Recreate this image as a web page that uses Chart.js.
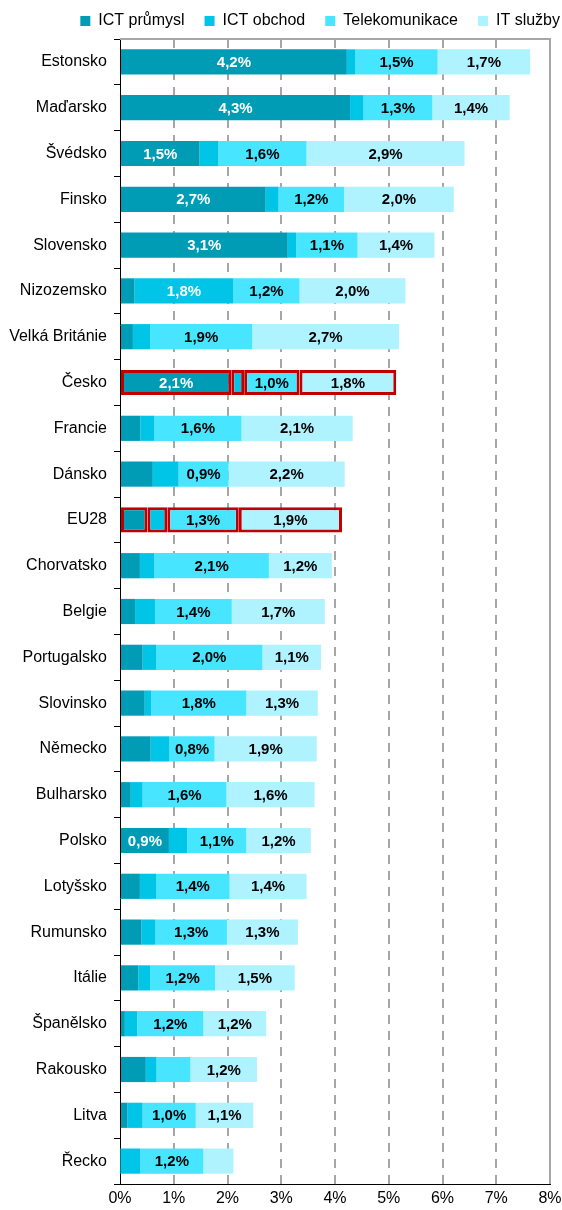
<!DOCTYPE html>
<html lang="cs">
<head>
<meta charset="utf-8">
<script src="https://cdn.jsdelivr.net/npm/chart.js@4.4.0/dist/chart.umd.min.js"></script>
<style>
  body { margin: 0; background: #fff; }
  #wrap { width: 562px; height: 1210px; }
</style>
</head>
<body>
<div id="wrap"><canvas id="ictChart" width="562" height="1210"></canvas></div>
<script>
// Podíl ICT sektoru na HDP podle zemí (%), pořadí shora dolů
const zeme = ["Estonsko", "Maďarsko", "Švédsko", "Finsko", "Slovensko", "Nizozemsko", "Velká Británie",
  "Česko", "Francie", "Dánsko", "EU28", "Chorvatsko", "Belgie", "Portugalsko", "Slovinsko", "Německo",
  "Bulharsko", "Polsko", "Lotyšsko", "Rumunsko", "Itálie", "Španělsko", "Rakousko", "Litva", "Řecko"];

const ictPrumysl = [4.22, 4.28, 1.48, 2.71, 3.12, 0.27, 0.24, 2.07, 0.38, 0.61, 0.51, 0.37, 0.28,
  0.42, 0.46, 0.57, 0.20, 0.91, 0.37, 0.40, 0.34, 0.09, 0.48, 0.14, 0.01];
const ictObchod = [0.16, 0.25, 0.35, 0.24, 0.16, 1.84, 0.32, 0.24, 0.26, 0.48, 0.37, 0.27, 0.37,
  0.25, 0.12, 0.35, 0.22, 0.34, 0.30, 0.26, 0.22, 0.23, 0.20, 0.28, 0.37];
const telekomunikace = [1.53, 1.28, 1.64, 1.22, 1.14, 1.23, 1.90, 1.03, 1.62, 0.93, 1.33, 2.13, 1.43,
  1.98, 1.77, 0.84, 1.56, 1.10, 1.37, 1.33, 1.21, 1.23, 0.63, 0.99, 1.17];
const itSluzby = [1.72, 1.44, 2.94, 2.04, 1.43, 1.97, 2.73, 1.80, 2.07, 2.16, 1.92, 1.17, 1.73,
  1.09, 1.33, 1.90, 1.64, 1.20, 1.43, 1.32, 1.48, 1.17, 1.24, 1.07, 0.56];

const osaTicks = [0, 1, 2, 3, 4, 5, 6, 7, 8];
const zvyraznene = ["Česko", "EU28"];

const FONT = "'Liberation Sans', Arial, sans-serif";
const GRID = "#A6A6A6";

// zvýrazněné řádky dostanou červený rámeček
const ramecek = zeme.map(z => zvyraznene.includes(z) ? "#C00000" : "rgba(0,0,0,0)");
const sirkaRamecku = zeme.map(z => zvyraznene.includes(z) ? 3 : 0);

function sada(label, data, color) {
  return {
    label, data,
    backgroundColor: color,
    borderColor: ramecek,
    borderWidth: sirkaRamecku,
    borderSkipped: false,
    barPercentage: 0.55,
    categoryPercentage: 1
  };
}

// popisky hodnot uvnitř segmentů
const popisky = {
  id: "popisky",
  afterDatasetsDraw(chart) {
    const ctx = chart.ctx;
    ctx.save();
    ctx.font = "bold 15px " + FONT;
    ctx.textAlign = "center";
    ctx.textBaseline = "middle";
    chart.data.datasets.forEach((ds, i) => {
      const meta = chart.getDatasetMeta(i);
      meta.data.forEach((bar, j) => {
        const v = ds.data[j];
        if (v < 0.75) return;
        ctx.fillStyle = i < 2 ? "#fff" : "#000";
        ctx.fillText(v.toFixed(1).replace(".", ",") + "%", (bar.x + bar.base) / 2, bar.y + 1);
      });
    });
    ctx.restore();
  }
};

// šedý rámeček nahoře a vpravo
const ramPlochy = {
  id: "ramPlochy",
  beforeDatasetsDraw(chart) {
    const { ctx, chartArea: a } = chart;
    ctx.save();
    ctx.strokeStyle = GRID;
    ctx.lineWidth = 2;
    ctx.beginPath();
    ctx.moveTo(a.left, a.top);
    ctx.lineTo(a.right, a.top);
    ctx.lineTo(a.right, a.bottom);
    ctx.stroke();
    ctx.restore();
  }
};

new Chart(document.getElementById("ictChart"), {
  type: "bar",
  data: {
    labels: zeme,
    datasets: [
      sada("ICT průmysl", ictPrumysl, "#009BB4"),
      sada("ICT obchod", ictObchod, "#00C5E6"),
      sada("Telekomunikace", telekomunikace, "#47E5FF"),
      sada("IT služby", itSluzby, "#AEF3FF")
    ]
  },
  options: {
    indexAxis: "y",
    responsive: false,
    animation: false,
    layout: { padding: { left: 0, right: -18, top: -7, bottom: 0 } },
    plugins: {
      legend: {
        position: "top",
        align: "end",
        maxHeight: 51,
        labels: {
          boxWidth: 10, boxHeight: 10, padding: 20,
          color: "#000",
          font: { family: FONT, size: 16 }
        }
      },
      tooltip: { enabled: false }
    },
    scales: {
      x: {
        stacked: true,
        min: 0, max: 8,
        afterBuildTicks: s => { s.ticks = osaTicks.map(v => ({ value: v })); },
        afterFit: s => { s.height = 26; s.paddingRight = 12; },
        ticks: {
          color: "#000",
          padding: 5,
          font: { family: FONT, size: 16 },
          callback: v => v + "%"
        },
        grid: {
          drawTicks: false,
          lineWidth: 2,
          color: c => (c.tick && (c.tick.value === 0 || c.tick.value === 8)) ? "rgba(0,0,0,0)" : GRID
        },
        border: { display: true, color: "#000", width: 1, dash: [9, 7] }
      },
      y: {
        stacked: true,
        afterFit: s => { s.width = 120; },
        ticks: {
          color: "#000",
          padding: 7,
          font: { family: FONT, size: 16 }
        },
        grid: {
          offset: true,
          drawOnChartArea: false,
          drawTicks: true,
          tickLength: 6,
          color: "#000"
        },
        border: { display: true, color: "#000", width: 1 }
      }
    }
  },
  plugins: [ramPlochy, popisky]
});
</script>
</body>
</html>
